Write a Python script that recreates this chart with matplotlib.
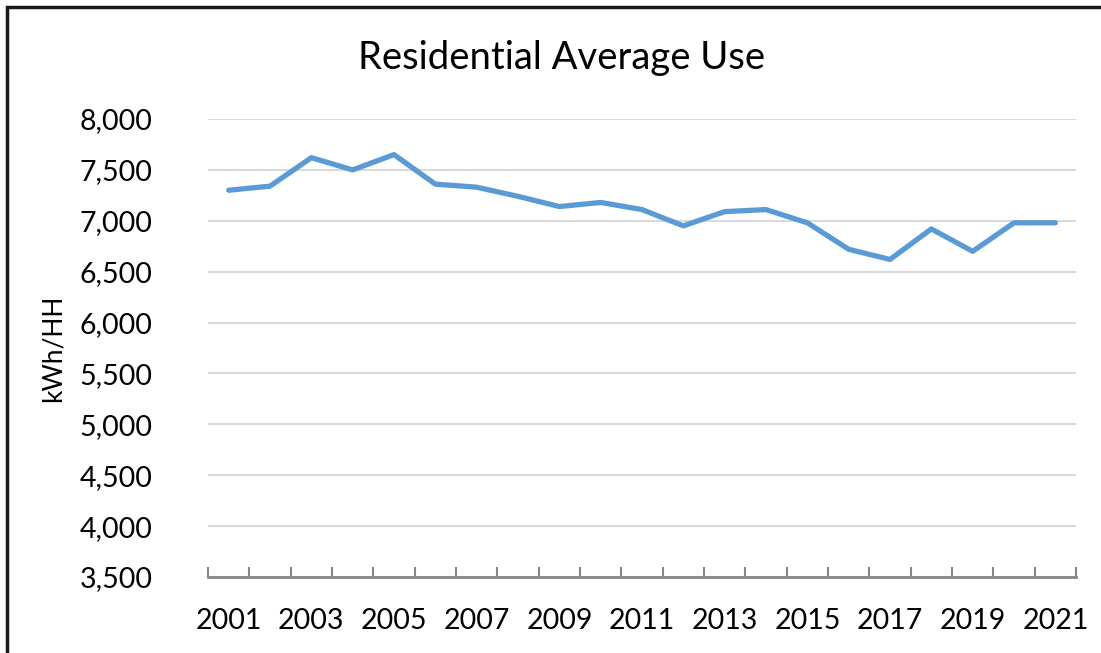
import numpy as np
import matplotlib.pyplot as plt
from matplotlib.patches import Rectangle
from matplotlib.ticker import FuncFormatter

years = list(range(2001, 2022))
avg_use = [7300, 7340, 7620, 7500, 7650, 7360, 7330, 7240, 7140, 7180, 7110,
           6950, 7090, 7110, 6980, 6720, 6620, 6920, 6700, 6980, 6980]
y_ticks = [3500, 4000, 4500, 5000, 5500, 6000, 6500, 7000, 7500, 8000]

plt.rcParams['font.family'] = ['Lato', 'DejaVu Sans']

fig = plt.figure(figsize=(11.01, 6.53), dpi=100)
ax = fig.add_axes([208 / 1101, 1 - 577 / 653, (1076 - 208) / 1101, (577 - 119) / 653])

x = np.arange(len(years))
ax.plot(x, avg_use, color='#5B9BD5', linewidth=3.8, solid_capstyle='round',
        solid_joinstyle='round', zorder=3)

ax.set_xlim(-0.5, len(years) - 0.5)
ax.set_ylim(3500, 8000)
ax.set_yticks(y_ticks)
ax.yaxis.set_major_formatter(FuncFormatter(lambda v, p: f'{int(v):,}'))
ax.grid(axis='y', color='#D9D9D9', linewidth=1.5, zorder=0)
ax.set_axisbelow(True)

# labels every other year, tick marks at category boundaries
ax.set_xticks(x[::2])
ax.set_xticklabels([str(y) for y in years[::2]])
ax.set_xticks(np.arange(len(years) + 1) - 0.5, minor=True)
ax.tick_params(axis='x', which='major', length=0, pad=22, labelsize=20.5)
ax.tick_params(axis='x', which='minor', direction='in', length=7, width=1.5,
               color='#868686')
ax.tick_params(axis='y', length=0, pad=40, labelsize=20.5)

for s in ['top', 'right', 'left']:
    ax.spines[s].set_visible(False)
ax.spines['bottom'].set_color('#868686')
ax.spines['bottom'].set_linewidth(2)

ax.set_ylabel('kWh/HH', fontsize=19, labelpad=10)
fig.text(562 / 1101, 1 - 58 / 653, 'Residential Average Use', fontsize=27.5,
         ha='center', va='center')

# outer frame
fig.patches.append(Rectangle((7 / 1101, -0.1), 1.2, 1 - 7 / 653 + 0.1,
                             transform=fig.transFigure, fill=False,
                             edgecolor='#1a1a1a', linewidth=2.5))

fig.savefig('out.png', dpi=100)
